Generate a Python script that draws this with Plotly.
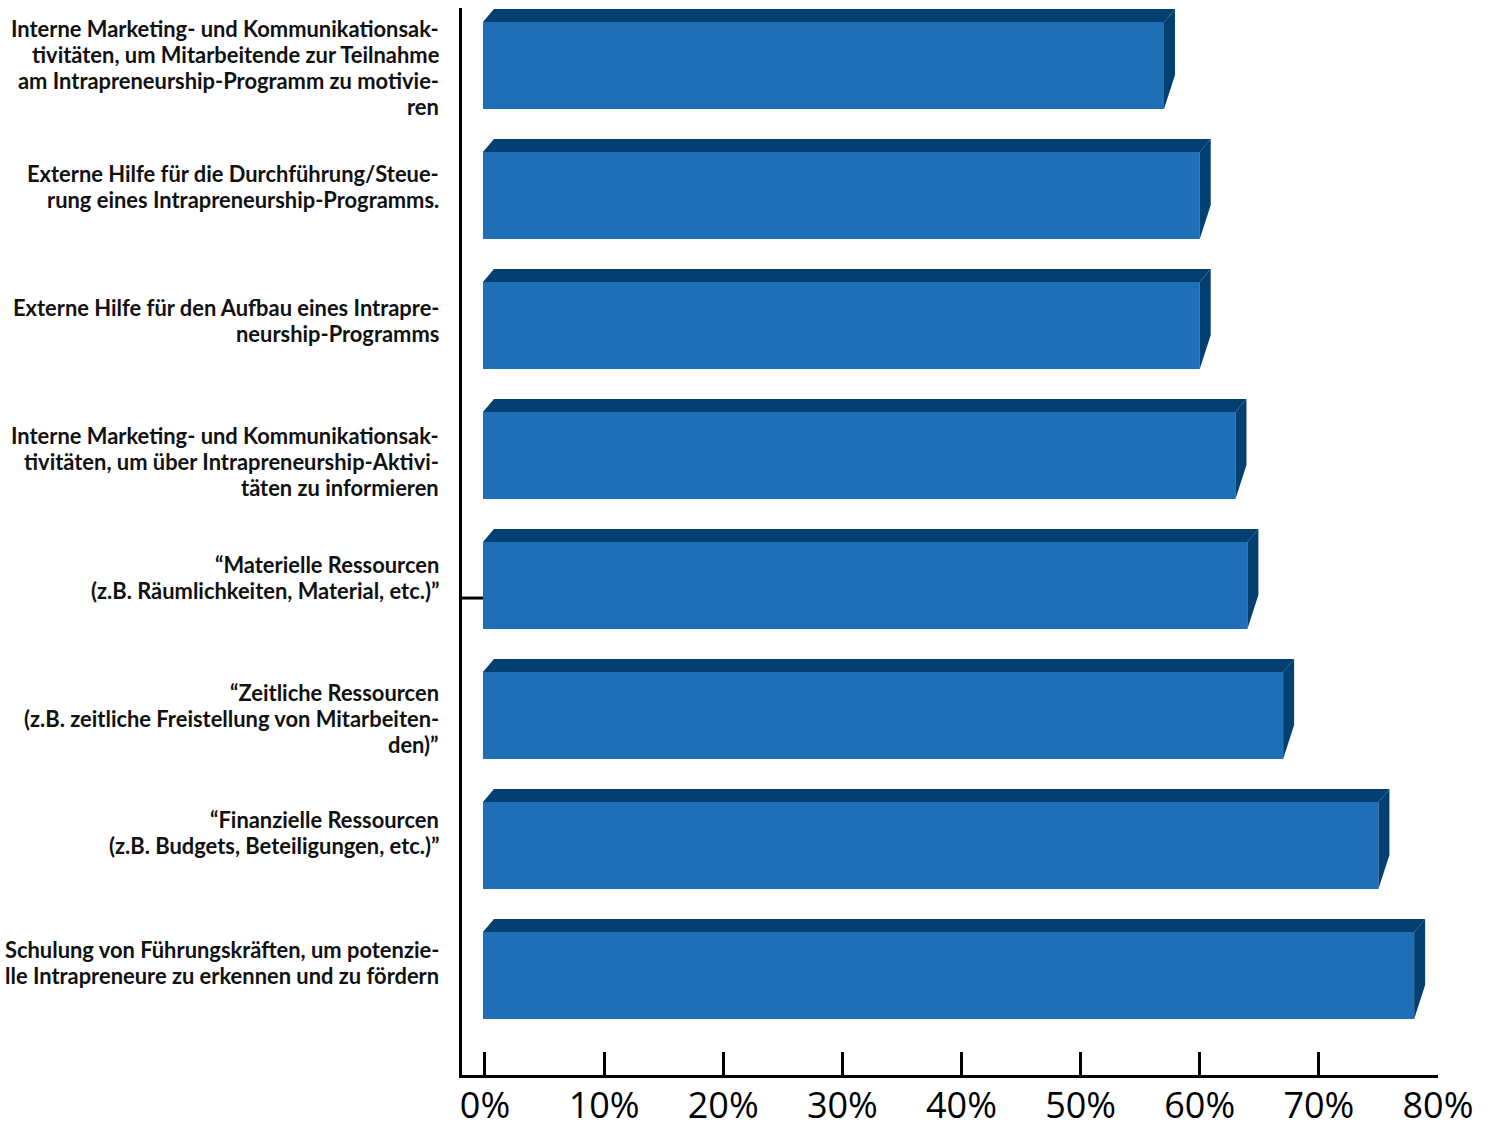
import plotly.graph_objects as go

categories = [
    "Interne Marketing- und Kommunikationsak-<br>tivitäten, um Mitarbeitende zur Teilnahme<br>am Intrapreneurship-Programm zu motivie-<br>ren",
    "Externe Hilfe für die Durchführung/Steue-<br>rung eines Intrapreneurship-Programms.",
    "Externe Hilfe für den Aufbau eines Intrapre-<br>neurship-Programms",
    "Interne Marketing- und Kommunikationsak-<br>tivitäten, um über Intrapreneurship-Aktivi-<br>täten zu informieren",
    "“Materielle Ressourcen<br>(z.B. Räumlichkeiten, Material, etc.)”",
    "“Zeitliche Ressourcen<br>(z.B. zeitliche Freistellung von Mitarbeiten-<br>den)”",
    "“Finanzielle Ressourcen<br>(z.B. Budgets, Beteiligungen, etc.)”",
    "Schulung von Führungskräften, um potenzie-<br>lle Intrapreneure zu erkennen und zu fördern",
]
values = [57, 60, 60, 63, 64, 67, 75, 78]
tick_vals = [0, 10, 20, 30, 40, 50, 60, 70, 80]

# style
FRONT = "#1F6FB6"
DARK = "#033F70"
label_yshift = [-1.5, 9.5, 5.5, -5.5, 8.5, -2.5, 13.5, 13.5]
LINE_GAP = 26
BAR_W = 0.669
DX = 0.922   # depth in x (percent units)
DY = 0.10    # depth in y (category units)
NOTCH = 0.2615
BASE = -0.17

pos = list(range(len(values)))

fig = go.Figure()
fig.add_trace(go.Bar(
    x=[v - BASE for v in values], y=pos, orientation="h", width=BAR_W, base=BASE,
    marker=dict(color=FRONT, line=dict(width=0)), hoverinfo="skip",
))

top_x, top_y, side_x, side_y = [], [], [], []
for p, v in zip(pos, values):
    yt = p - BAR_W / 2
    yb = p + BAR_W / 2
    top_x += [BASE, BASE + DX, v + DX, v, BASE, None]
    top_y += [yt, yt - DY, yt - DY, yt, yt, None]
    side_x += [v, v + DX, v + DX, v, v, None]
    side_y += [yt, yt - DY, yb - NOTCH, yb, yt, None]

fig.add_trace(go.Scatter(x=top_x, y=top_y, mode="lines", fill="toself",
                         fillcolor=DARK, line=dict(width=0, color=DARK),
                         hoverinfo="skip"))
fig.add_trace(go.Scatter(x=side_x, y=side_y, mode="lines", fill="toself",
                         fillcolor=DARK, line=dict(width=0, color=DARK),
                         hoverinfo="skip"))

for p, lab, ys in zip(pos, categories, label_yshift):
    lines = lab.split("<br>")
    n = len(lines)
    for k, line in enumerate(lines):
        fig.add_annotation(
            x=-0.0215, xref="paper", y=p, yref="y",
            yshift=ys + ((n - 1) / 2 - k) * LINE_GAP,
            text="<b>" + line + "</b>",
            showarrow=False, xanchor="right", yanchor="middle",
            align="right",
            font=dict(family="Lato", size=21.9, color="#111111"),
        )

fig.add_shape(type="line", xref="paper", yref="paper",
              x0=0, x1=0.0215, y0=0.447, y1=0.447,
              line=dict(color="black", width=3))

fig.update_layout(
    width=1496, height=1129,
    margin=dict(l=462, r=58, t=8, b=54, autoexpand=False),
    paper_bgcolor="white", plot_bgcolor="white",
    showlegend=False,
    xaxis=dict(range=[-1.93, 80], tickvals=tick_vals,
               ticktext=[f"{t}%" for t in tick_vals],
               ticks="inside", ticklen=23, tickwidth=3, tickcolor="black",
               showline=True, linewidth=3, linecolor="black",
               showgrid=False, zeroline=False, automargin=False,
               ticklabelstandoff=-3,
               tickfont=dict(family="Open Sans", size=36, color="black")),
    yaxis=dict(range=[7.7654, -0.4423], showticklabels=False, ticks="",
               showline=True, linewidth=3, linecolor="black",
               showgrid=False, zeroline=False, automargin=False),
)

fig.write_html("out.html", config={"displayModeBar": False},
               post_script="document.body.style.margin='0';")
